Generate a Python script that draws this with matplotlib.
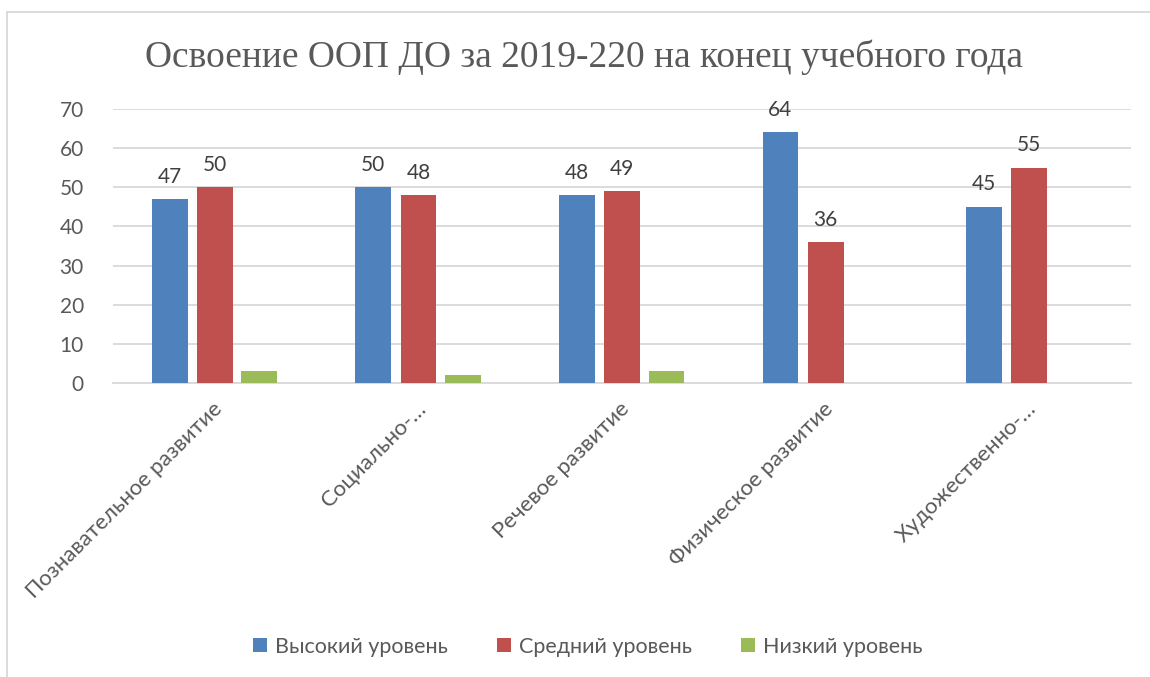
import numpy as np
import matplotlib
matplotlib.use("Agg")
import matplotlib.pyplot as plt
from matplotlib.lines import Line2D
from matplotlib.transforms import ScaledTranslation

# Data
categories = ["Познавательное развитие", "Социально-…", "Речевое развитие",
              "Физическое развитие", "Художественно-…"]
series_names = ["Высокий уровень", "Средний уровень", "Низкий уровень"]
high = [47, 50, 48, 64, 45]
mid = [50, 48, 49, 36, 55]
low = [3, 2, 3, 0, 0]
y_ticks = [0, 10, 20, 30, 40, 50, 60, 70]

colors = ["#4F81BD", "#C0504D", "#9BBB59"]
grid_color = "#D9D9D9"
text_color = "#595959"

plt.rcParams["font.family"] = ["Lato", "DejaVu Sans"]

fig = plt.figure(figsize=(11.5, 6.77), dpi=100)
ax = fig.add_axes([0.0983, 0.4343, 0.8852, 0.4047])

x = np.arange(len(categories))
width = 0.176
offsets = [-0.222, 0.0, 0.218]
all_series = [high, mid, low]

for i, (vals, name) in enumerate(zip(all_series, series_names)):
    bars = ax.bar(x + offsets[i], vals, width, color=colors[i], label=name, zorder=3)
    if i < 2:
        ax.bar_label(bars, labels=[str(v) for v in vals], padding=9,
                     fontsize=15, color="#404040")

ax.set_xlim(-0.5, len(categories) - 0.5)
ax.set_ylim(0, 70)
ax.set_yticks(y_ticks)
ax.yaxis.grid(True, color=grid_color, linewidth=1.3, zorder=0)
ax.set_axisbelow(True)
for side in ["top", "right", "left"]:
    ax.spines[side].set_visible(False)
ax.spines["bottom"].set_color(grid_color)
ax.spines["bottom"].set_linewidth(1.3)
ax.tick_params(axis="y", length=0, pad=21, labelsize=15, labelcolor=text_color)
ax.tick_params(axis="x", length=0, pad=4)

ax.set_xticks(x)
ax.set_xticklabels(categories, rotation=45, ha="right", va="top",
                   rotation_mode="anchor", fontsize=16, color=text_color)
for lbl in ax.get_xticklabels():
    lbl.set_transform(lbl.get_transform() + ScaledTranslation(-0.03, -0.1, fig.dpi_scale_trans))

fig.text(0.508, 0.915, "Освоение ООП ДО за 2019-220 на конец учебного года",
         ha="center", va="center", fontsize=27, color=text_color,
         family="Liberation Serif")

leg = fig.legend(loc="center", bbox_to_anchor=(0.511, 0.045), ncol=3, frameon=False,
                 fontsize=15.5, handlelength=0.65, handleheight=0.65,
                 handletextpad=0.35, columnspacing=2.3)
for t in leg.get_texts():
    t.set_color(text_color)

# chart frame (only left and top visible)
fig.add_artist(Line2D([0.0065, 0.0065], [0, 0.982], color="#D9D9D9", lw=1.3))
fig.add_artist(Line2D([0.0065, 1.0], [0.982, 0.982], color="#D9D9D9", lw=1.3))

fig.savefig("out.png", dpi=100, facecolor="white")
